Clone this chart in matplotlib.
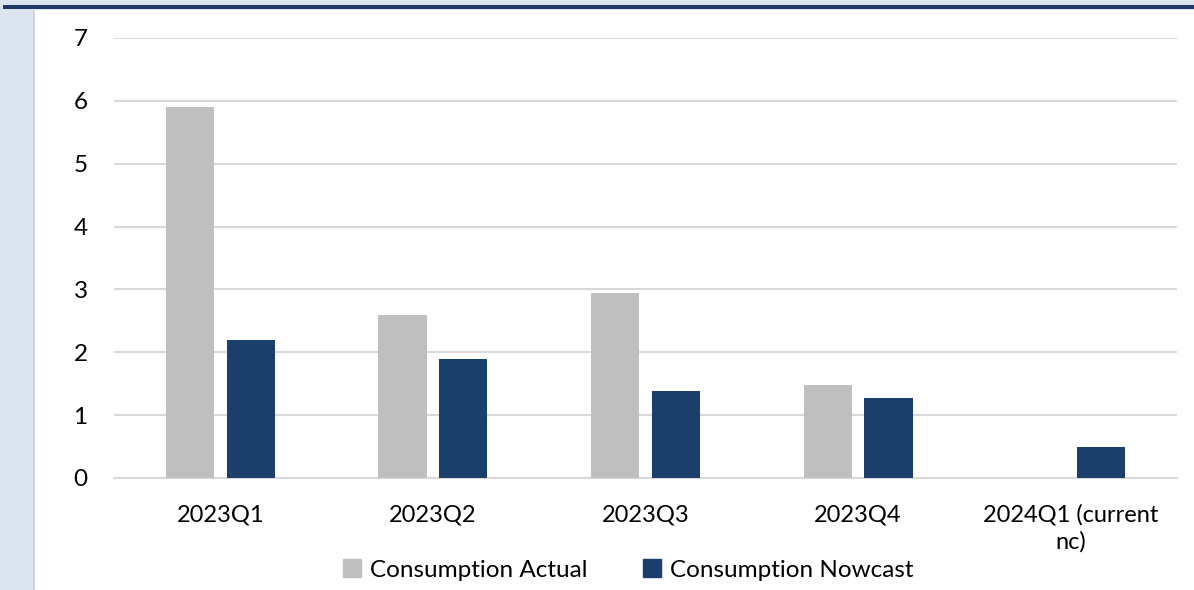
import numpy as np
import matplotlib
matplotlib.use('Agg')
import matplotlib.pyplot as plt
from matplotlib.patches import Rectangle, Patch

plt.rcParams['font.family'] = ['Lato', 'DejaVu Sans']

# chart data
quarters = ['2023Q1', '2023Q2', '2023Q3', '2023Q4', '2024Q1 (current\nnc)']
actual = [5.9, 2.6, 2.95, 1.48, np.nan]
nowcast = [2.2, 1.9, 1.39, 1.27, 0.5]
yticks = [0, 1, 2, 3, 4, 5, 6, 7]

col_actual = '#BFBFBF'
col_nowcast = '#1B3F6B'

fig = plt.figure(figsize=(11.94, 5.90), dpi=100)
fig.patch.set_facecolor('#DCE4F0')

# white panel, thin grey edge and dark top rule
fig.add_artist(Rectangle((35 / 1194, 0), 1 - 35 / 1194, 1 - 10 / 590,
                         transform=fig.transFigure, facecolor='white',
                         edgecolor='none', zorder=0))
fig.add_artist(Rectangle((33 / 1194, 0), 2 / 1194, 1 - 10 / 590,
                         transform=fig.transFigure, facecolor='#D0D4DA',
                         edgecolor='none', zorder=0))
fig.add_artist(Rectangle((3 / 1194, 1 - 9 / 590), 1 - 3 / 1194, 4 / 590,
                         transform=fig.transFigure, facecolor='#1F3864',
                         edgecolor='none', zorder=1))

ax = fig.add_axes([114 / 1194, 1 - 478 / 590, (1177 - 114) / 1194, (478 - 38) / 590])
ax.set_facecolor('none')

x = np.arange(len(quarters))
w = 0.226
off = 0.143
ax.bar(x - off, actual, width=w, color=col_actual, zorder=3)
ax.bar(x + off, nowcast, width=w, color=col_nowcast, zorder=3)

ax.set_xlim(-0.5, len(quarters) - 0.5)
ax.set_ylim(0, 7)
ax.set_yticks(yticks)
ax.yaxis.grid(True, color='#D9D9D9', linewidth=1.5, zorder=0)
ax.set_axisbelow(True)
for s in ['top', 'right', 'left']:
    ax.spines[s].set_visible(False)
ax.spines['bottom'].set_color('#D9D9D9')
ax.spines['bottom'].set_linewidth(1.5)

ax.set_xticks(x)
ax.set_xticklabels(quarters, fontsize=17, linespacing=1.3)
ax.tick_params(axis='x', length=0, pad=19)
ax.tick_params(axis='y', length=0, pad=19, labelsize=17.5)

handles = [Patch(color=col_actual, label='Consumption Actual'),
           Patch(color=col_nowcast, label='Consumption Nowcast')]
fig.legend(handles=handles, loc='center', bbox_to_anchor=(628 / 1194, 1 - 570 / 590),
           ncol=2, frameon=False, fontsize=17.5, handlelength=0.75, handleheight=0.75,
           handletextpad=0.35, columnspacing=2.3)

fig.savefig('out.png', dpi=100, facecolor=fig.get_facecolor())
